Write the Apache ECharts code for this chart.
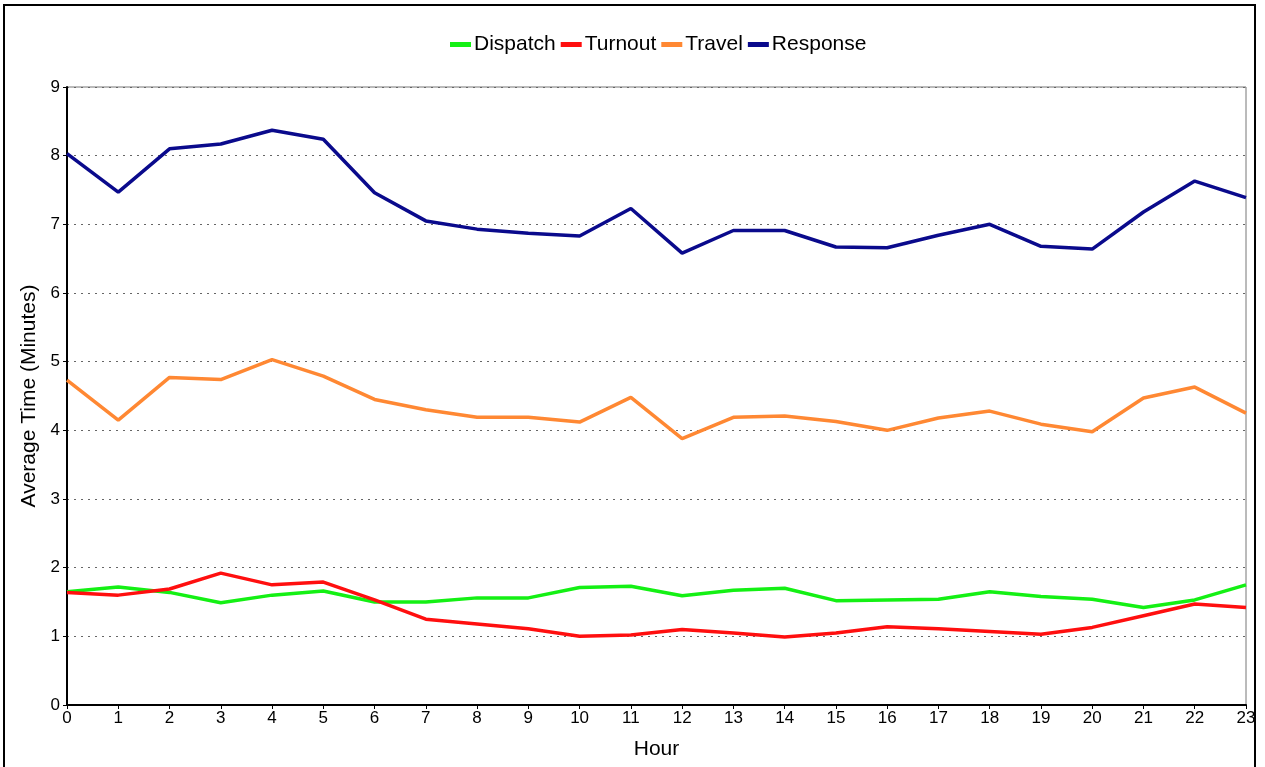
<!DOCTYPE html>
<html lang="en">
  <head>
    <meta charset="UTF-8" />
    <title>Average Time by Hour</title>
    <script src="https://cdn.jsdelivr.net/npm/echarts@6/dist/echarts.min.js"></script>
    <style>
      html, body { margin: 0; padding: 0; background: #fff; overflow: hidden; }
      #frame {
        position: absolute; left: 3px; top: 4px;
        width: 1253px; height: 800px;
        border: 2px solid #000; box-sizing: border-box;
      }
      #chart { position: absolute; left: 0; top: 0; width: 1265px; height: 767px; }
    </style>
  </head>
  <body>
    <div id="frame"></div>
    <div id="chart"></div>
    <script>
      // hours on the x axis
      var hours = ['0','1','2','3','4','5','6','7','8','9','10','11','12','13','14','15','16','17','18','19','20','21','22','23'];

      // values (minutes)
      var dispatch = [1.65, 1.72, 1.64, 1.49, 1.60, 1.66, 1.50, 1.50, 1.56, 1.56, 1.71, 1.73,
                      1.59, 1.67, 1.70, 1.52, 1.53, 1.54, 1.65, 1.58, 1.54, 1.42, 1.53, 1.75];
      var turnout = [1.64, 1.60, 1.69, 1.92, 1.75, 1.79, 1.53, 1.25, 1.18, 1.11, 1.00, 1.02,
                     1.10, 1.05, 0.99, 1.05, 1.14, 1.11, 1.07, 1.03, 1.13, 1.30, 1.47, 1.42];
      var travel = [4.73, 4.15, 4.77, 4.74, 5.03, 4.79, 4.45, 4.30, 4.19, 4.19, 4.12, 4.48,
                    3.88, 4.19, 4.21, 4.13, 4.00, 4.18, 4.28, 4.09, 3.98, 4.47, 4.63, 4.25];
      var response = [8.03, 7.47, 8.10, 8.17, 8.37, 8.24, 7.46, 7.05, 6.93, 6.87, 6.83, 7.23,
                      6.58, 6.91, 6.91, 6.67, 6.66, 6.84, 7.00, 6.68, 6.64, 7.18, 7.63, 7.39];

      var font = 'Liberation Sans, Arial, sans-serif';

      function line(name, data, color) {
        return {
          name: name,
          type: 'line',
          data: data,
          symbol: 'none',
          lineStyle: { width: 3.5, color: color },
          itemStyle: { color: color }
        };
      }

      var chart = echarts.init(document.getElementById('chart'));
      chart.setOption({
        animation: false,
        legend: {
          top: 29,
          left: 445,
          itemGap: 5,
          itemWidth: 21,
          itemHeight: 5,
          icon: 'rect',
          textStyle: { fontFamily: font, fontSize: 21, color: '#000', padding: [0, 0, 0, -2] },
          data: ['Dispatch', 'Turnout', 'Travel', 'Response']
        },
        grid: {
          left: 67, right: 19, top: 87, bottom: 62,
          show: true, borderColor: '#777', borderWidth: 1
        },
        xAxis: {
          type: 'category',
          data: hours,
          boundaryGap: false,
          name: 'Hour',
          nameLocation: 'middle',
          nameGap: 34,
          nameTextStyle: { fontFamily: font, fontSize: 21, color: '#000' },
          axisLine: { lineStyle: { color: '#000', width: 2 } },
          axisTick: { show: true, length: 4, lineStyle: { color: '#000' } },
          axisLabel: { fontFamily: font, fontSize: 17, color: '#000', margin: 5 },
          splitLine: { show: false }
        },
        yAxis: {
          type: 'value',
          min: 0, max: 9, interval: 1,
          name: 'Average Time (Minutes)',
          nameLocation: 'middle',
          nameGap: 23,
          nameTextStyle: { fontFamily: font, fontSize: 21, color: '#000' },
          axisLine: { show: true, lineStyle: { color: '#000', width: 2 } },
          axisTick: { show: true, length: 4, lineStyle: { color: '#000' } },
          axisLabel: { fontFamily: font, fontSize: 17, color: '#000', margin: 7 },
          splitLine: { show: true, lineStyle: { color: '#666', type: [2, 5], width: 1 } }
        },
        series: [
          line('Dispatch', dispatch, '#14f014'),
          line('Turnout', turnout, '#ff0f0f'),
          line('Travel', travel, '#ff8833'),
          line('Response', response, '#0a0a8c')
        ]
      });
    </script>
  </body>
</html>
